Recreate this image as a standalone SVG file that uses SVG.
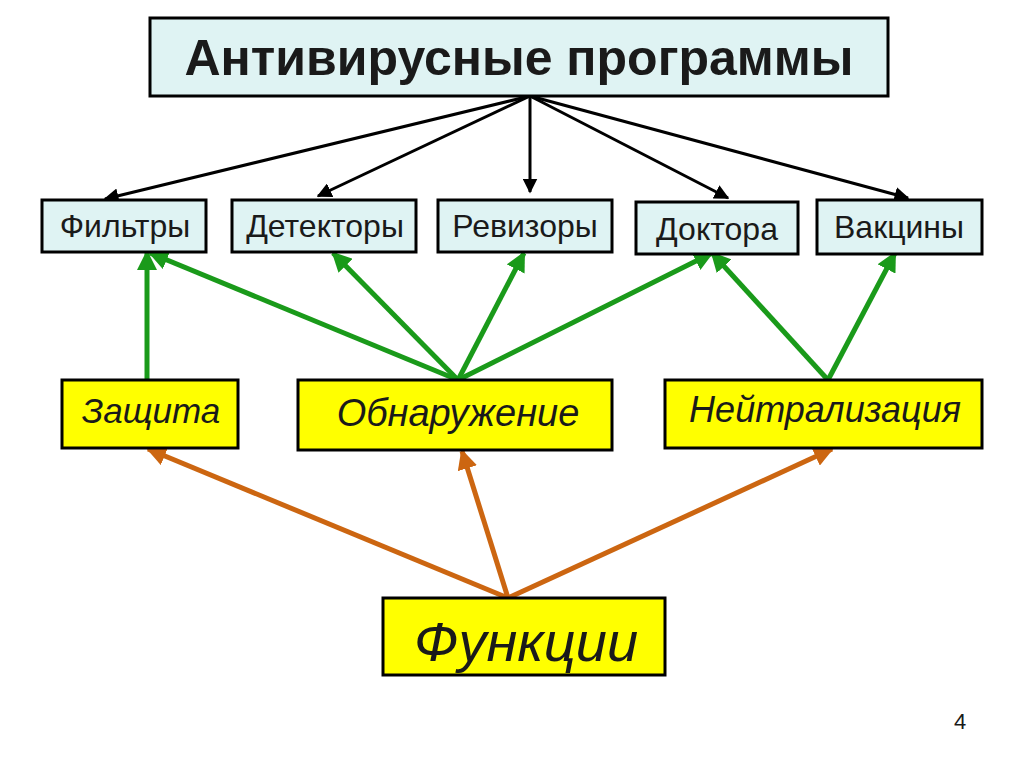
<svg xmlns="http://www.w3.org/2000/svg" width="1024" height="767" viewBox="0 0 1024 767">
<defs>
<style>
.b{fill:#dff3f3;stroke:#000;stroke-width:3}
.y{fill:#ffff00;stroke:#000;stroke-width:3}
.t{font-family:"Liberation Sans",Arial,sans-serif;text-anchor:middle;fill:#1a1a1a}
.k{stroke:#000;stroke-width:3;fill:none}
.g{stroke:#1a9a1a;stroke-width:5;fill:none}
.o{stroke:#cc6611;stroke-width:5;fill:none}
</style>
<marker id="ak" viewBox="0 0 10 10" refX="9" refY="5" markerWidth="5" markerHeight="5" orient="auto" markerUnits="strokeWidth"><path d="M0,0L10,5L0,10z" fill="#000"/></marker>
<marker id="ag" viewBox="0 0 10 10" refX="9" refY="5" markerWidth="4" markerHeight="4" orient="auto" markerUnits="strokeWidth"><path d="M0,0L10,5L0,10z" fill="#1a9a1a"/></marker>
<marker id="ao" viewBox="0 0 10 10" refX="9" refY="5" markerWidth="4" markerHeight="4" orient="auto" markerUnits="strokeWidth"><path d="M0,0L10,5L0,10z" fill="#cc6611"/></marker>
</defs>
<rect width="1024" height="767" fill="#fff"/>
<g id="connectors">
<path class="k" marker-end="url(#ak)" d="M530,96L105,199"/>
<path class="k" marker-end="url(#ak)" d="M530,96L318,196"/>
<path class="k" marker-end="url(#ak)" d="M530,96L530,192"/>
<path class="k" marker-end="url(#ak)" d="M530,96L728,198"/>
<path class="k" marker-end="url(#ak)" d="M530,96L908,198"/>
<path class="g" marker-end="url(#ag)" d="M147,380L147,252"/>
<path class="g" marker-end="url(#ag)" d="M458,380L150,253"/>
<path class="g" marker-end="url(#ag)" d="M458,380L333,253"/>
<path class="g" marker-end="url(#ag)" d="M458,380L524,253"/>
<path class="g" marker-end="url(#ag)" d="M458,380L712,253"/>
<path class="g" marker-end="url(#ag)" d="M828,380L712,253"/>
<path class="g" marker-end="url(#ag)" d="M828,380L895,253"/>
<path class="o" marker-end="url(#ao)" d="M508,598L148,449"/>
<path class="o" marker-end="url(#ao)" d="M508,598L462,451"/>
<path class="o" marker-end="url(#ao)" d="M508,598L832,449"/>
</g>
<g id="top"><rect class="b" x="150" y="18" width="738" height="78"/><text class="t" x="519" y="75" font-size="50" font-weight="bold">Антивирусные программы</text></g>
<g id="filtry"><rect class="b" x="42" y="200" width="164" height="52"/><text class="t" x="125" y="237" font-size="32">Фильтры</text></g>
<g id="detektory"><rect class="b" x="232" y="200" width="184" height="52"/><text class="t" x="325" y="237" font-size="32">Детекторы</text></g>
<g id="revizory"><rect class="b" x="438" y="200" width="174" height="52"/><text class="t" x="525" y="237" font-size="32">Ревизоры</text></g>
<g id="doktora"><rect class="b" x="636" y="202" width="162" height="52"/><text class="t" x="717" y="240" font-size="32">Доктора</text></g>
<g id="vakciny"><rect class="b" x="817" y="200" width="165" height="54"/><text class="t" x="899" y="238" font-size="32">Вакцины</text></g>
<g id="zashchita"><rect class="y" x="62" y="380" width="176" height="68"/><text class="t" x="151" y="423" font-size="35" font-style="italic">Защита</text></g>
<g id="obnaruzhenie"><rect class="y" x="298" y="380" width="314" height="70"/><text class="t" x="458" y="426" font-size="38" font-style="italic">Обнаружение</text></g>
<g id="neitralizaciya"><rect class="y" x="665" y="380" width="317" height="68"/><text class="t" x="825" y="422" font-size="36" font-style="italic">Нейтрализация</text></g>
<g id="funkcii"><rect class="y" x="383" y="598" width="282" height="77"/><text class="t" x="526" y="661" font-size="56" font-style="italic">Функции</text></g>
<text class="t" x="960" y="729" font-size="22">4</text>
</svg>
